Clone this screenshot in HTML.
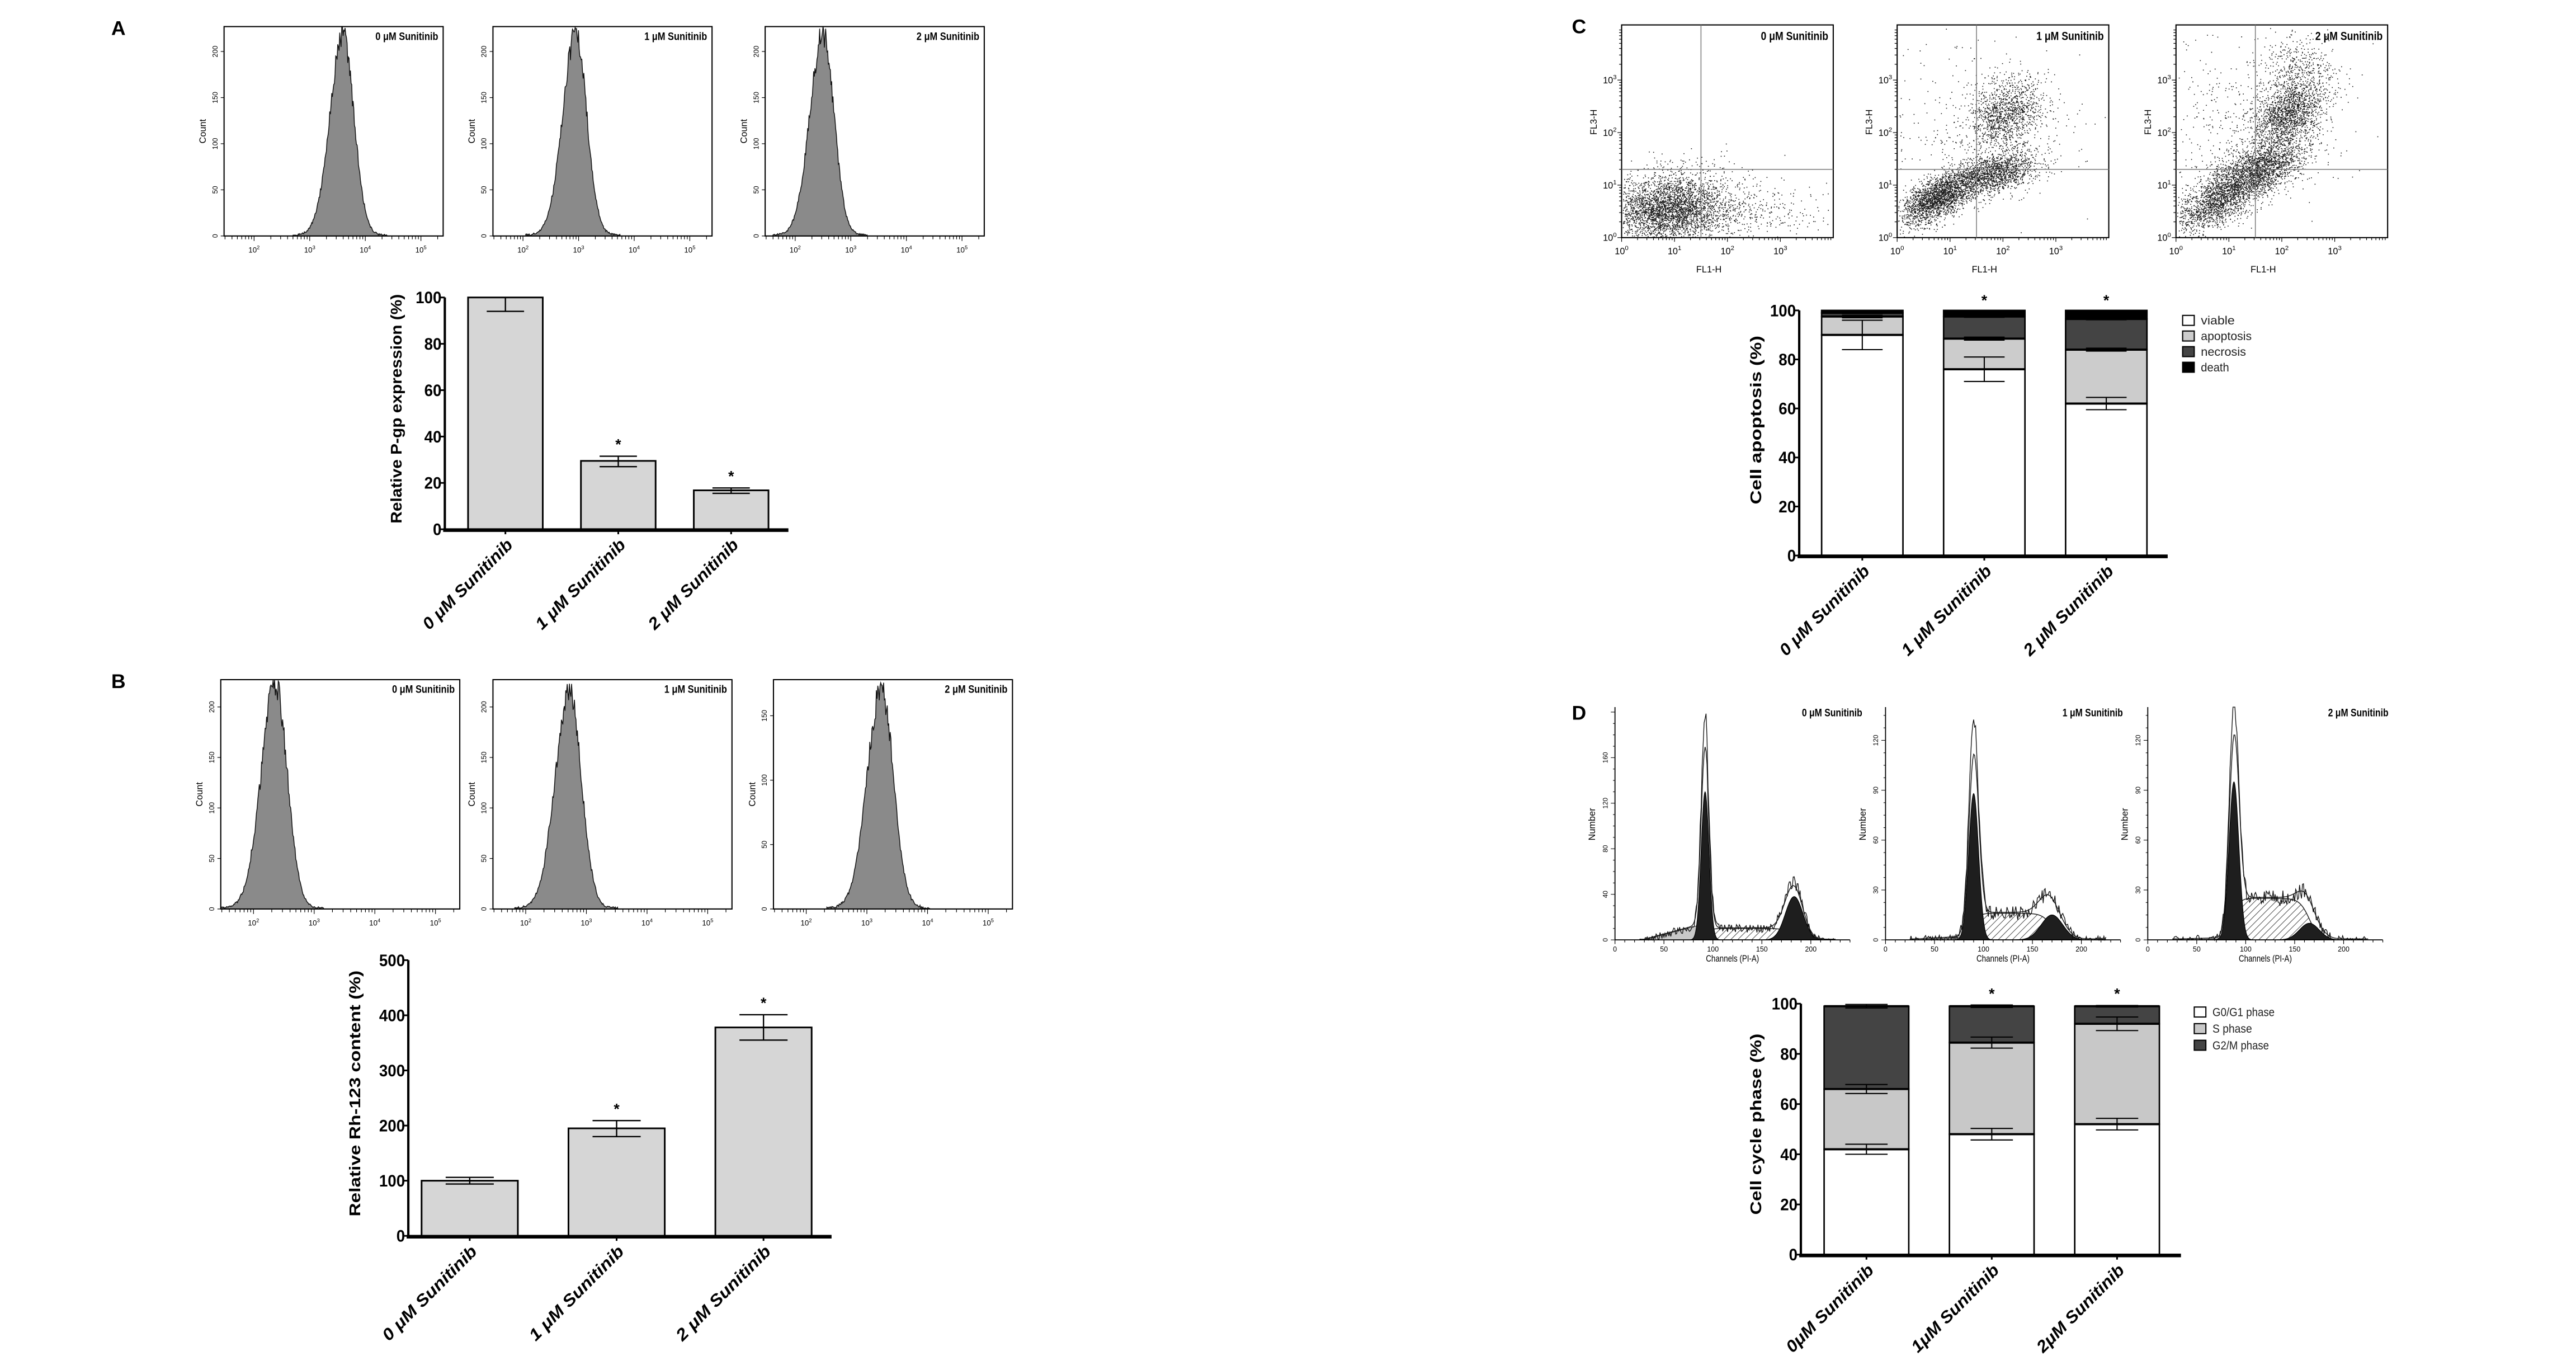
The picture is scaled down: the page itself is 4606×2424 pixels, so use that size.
<!DOCTYPE html>
<html><head><meta charset="utf-8">
<style>
html,body{margin:0;padding:0;background:#fff;}
svg{display:block;}
text{font-family:"Liberation Sans",sans-serif;}
</style></head>
<body>
<svg id="fig" width="4606" height="2424" viewBox="0 0 1552 816" preserveAspectRatio="none" xmlns="http://www.w3.org/2000/svg">
<defs>
<pattern id="hatch" patternUnits="userSpaceOnUse" width="3" height="3" patternTransform="rotate(45)">
<rect width="3" height="3" fill="#fff"/><line x1="0" y1="0" x2="0" y2="3" stroke="#333" stroke-width="0.6"/>
</pattern>
</defs>
<rect x="0" y="0" width="1552" height="816" fill="#fff"/>
<text x="67" y="21" font-family="Liberation Serif" font-weight="bold" font-size="12">A</text>
<text x="67" y="414" font-family="Liberation Serif" font-weight="bold" font-size="12">B</text>
<text x="947" y="20" font-family="Liberation Serif" font-weight="bold" font-size="12">C</text>
<text x="947" y="433" font-family="Liberation Serif" font-weight="bold" font-size="12">D</text>
</svg>
<script>
// ---------------- DATA ----------------
const barCats = ['0 μM Sunitinib','1 μM Sunitinib','2 μM Sunitinib'];
const dCats = ['0μM Sunitinib','1μM Sunitinib','2μM Sunitinib'];
const histTitles = ['0 μM Sunitinib','1 μM Sunitinib','2 μM Sunitinib'];
// Panel A bar: relative P-gp expression
const aVals = [100, 29.5, 16.8];
const aErrUp = [0, 2, 1];
const aErrDn = [6, 2.5, 1.3];
const aStars = [false, true, true];
const aTicks = [0, 20, 40, 60, 80, 100];
// Panel B bar: relative Rh-123 content
const bVals = [100, 195, 378];
const bErrUp = [6, 14, 23];
const bErrDn = [6, 15, 23];
const bStars = [false, true, true];
const bTicks = [0, 100, 200, 300, 400, 500];
// Panel A / B histogram peak positions (log10 fluorescence)
const aPeakLog = [3.6, 2.95, 2.5];
const aPeakCount = [215, 218, 218];
const bPeakLog = [2.36, 2.72, 3.24];
const bPeakCount = [222, 214, 170];
const aHistYTicks = [0, 50, 100, 150, 200];
const bHistYTicks = [[0,50,100,150,200],[0,50,100,150,200],[0,50,100,150]];
const bHistYMax = [227, 227, 178];
// Panel C stacked: cell apoptosis
const cViable = [90, 76, 62];
const cApop = [7.5, 12.5, 22];
const cNecro = [1.5, 9, 12.5];
const cDeath = [1, 2.5, 3.5];
const cViableErr = [6, 5, 2.5];
const cApopErr = [0.5, 0.6, 0.6];
const cNecroErr = [0.3, 0.3, 0.3];
const cStars = [false, true, true];
const cTicks = [0, 20, 40, 60, 80, 100];
const cLegend = ['viable','apoptosis','necrosis','death'];
// Panel D stacked: cell cycle phase
const dG1 = [42, 48, 52];
const dS = [24, 36.5, 40];
const dG2 = [33, 14.5, 7];
const dG1Err = [2, 2.3, 2.3];
const dSErr = [1.8, 2.2, 2.7];
const dG2Err = [0.7, 0.5, 0.3];
const dStars = [false, true, true];
const dTicks = [0, 20, 40, 60, 80, 100];
const dLegend = ['G0/G1 phase','S phase','G2/M phase'];
// Panel D DNA histograms (channel units / counts)
const dHistG1Mu = [92, 90, 88];
const dHistG1Sd = [4, 5, 5];
const dHistG1H = [130, 88, 95];
const dHistG2Mu = [183, 170, 165];
const dHistG2Sd = [9, 11, 10];
const dHistG2H = [38, 15, 10];
const dHistSH = [10, 16, 25];
const dHistDebrisH = [15, 2, 1];
const dHistYTicks = [[0,40,80,120,160],[0,30,60,90,120],[0,30,60,90,120]];
const dHistYMax = [200, 137, 137];
const dHistXTicks = [0, 50, 100, 150, 200];

// ---------------- HELPERS ----------------
const NS = 'http://www.w3.org/2000/svg';
const svg = document.getElementById('fig');
function mk(tag, attrs, parent){
  const e = document.createElementNS(NS, tag);
  for (const k in attrs) e.setAttribute(k, attrs[k]);
  (parent || svg).appendChild(e);
  return e;
}
function txt(parent, x, y, s, size, extra){
  const t = mk('text', Object.assign({x:x, y:y, 'font-size':size}, extra||{}), parent);
  t.textContent = s;
  return t;
}
let seed = 12345;
function rnd(){ seed = (seed * 1664525 + 1013904223) % 4294967296; return seed / 4294967296; }
function gauss(){ let u = rnd() || 1e-6, v = rnd(); return Math.sqrt(-2*Math.log(u))*Math.cos(2*Math.PI*v); }
function pow10(parent, x, y, exp, size, anchor){
  const t = mk('text', {x:x, y:y, 'font-size':size, 'text-anchor':anchor||'middle'}, parent);
  const a = mk('tspan', {}, t); a.textContent = '10';
  const b = mk('tspan', {dy:-size*0.45, 'font-size':size*0.7}, t); b.textContent = String(exp);
  return t;
}

// ---------------- SIMPLE BAR CHART ----------------
function barChart(name, cfg, cats, vals, errUp, errDn, stars, ticks){
  const g = mk('g', {});
  
  
  const max = ticks[ticks.length-1];
  const y = v => cfg.y0 - v/max*(cfg.y0-cfg.yTop);
  const cx = i => cfg.firstX + i*cfg.step + cfg.bw/2;
  vals.forEach((v,i)=>{
    const r = mk('rect', {x:cx(i)-cfg.bw/2, y:y(v), width:cfg.bw, height:cfg.y0-y(v), fill:'#d6d6d6', stroke:'#000', 'stroke-width':1}, g);
    
    
    const hi = y(v+errUp[i]), lo = y(v-errDn[i]);
    const eb = mk('path', {d:`M${cx(i)} ${hi}V${lo}M${cx(i)-cfg.bw*0.25} ${hi}h${cfg.bw*0.5}M${cx(i)-cfg.bw*0.25} ${lo}h${cfg.bw*0.5}`, stroke:'#000', 'stroke-width':0.8, fill:'none'}, g);
    
    
    if (stars[i]) {
      const s = txt(g, cx(i), hi-4, '*', 9, {'text-anchor':'middle', 'font-weight':'bold'});
      
      
    }
    mk('line', {x1:cx(i), x2:cx(i), y1:cfg.y0, y2:cfg.y0+3, stroke:'#000', 'stroke-width':1}, g);
    const lbl = txt(g, cx(i)+5, cfg.y0+10, cats[i], cfg.catSize, {'text-anchor':'end', 'font-weight':'bold', 'font-style':'italic', transform:`rotate(-45 ${cx(i)+5} ${cfg.y0+10})`, textLength:cfg.catLen, lengthAdjust:'spacingAndGlyphs'});
    
    
  });
  const ax = mk('line', {x1:cfg.x0, x2:cfg.x0, y1:cfg.y0, y2:cfg.yTop, stroke:'#000', 'stroke-width':1.4}, g);
  
  
  const xa = mk('line', {x1:cfg.x0-1, x2:cfg.xEnd, y1:cfg.y0+0.5, y2:cfg.y0+0.5, stroke:'#000', 'stroke-width':2.2}, g);
  
  
  ticks.forEach(t=>{
    mk('line', {x1:cfg.x0-2.5, x2:cfg.x0, y1:y(t), y2:y(t), stroke:'#000', 'stroke-width':1}, g);
    const tl = txt(g, cfg.x0-2, y(t)+3.5, String(t), 10, {'text-anchor':'end', 'font-weight':'bold', textLength:String(t).length*5.2, lengthAdjust:'spacingAndGlyphs'});
    
    
  });
  const yt = txt(g, 0, 0, cfg.title, 9.5, {'text-anchor':'middle', 'font-weight':'bold', transform:`translate(${cfg.titleX} ${(cfg.titleY0+cfg.titleY1)/2}) rotate(-90)`, textLength:cfg.titleY1-cfg.titleY0, lengthAdjust:'spacingAndGlyphs'});
  
  
}

// ---------------- STACKED BAR CHART ----------------
function stackChart(name, cfg, cats, series, errs, fills, stars, ticks, legend){
  const g = mk('g', {});
  
  
  const max = ticks[ticks.length-1];
  const y = v => cfg.y0 - v/max*(cfg.y0-cfg.yTop);
  const cx = i => cfg.firstX + i*cfg.step + cfg.bw/2;
  cats.forEach((c,i)=>{
    let base = 0;
    const tops = [];
    series.forEach((s,k)=>{
      const top = base + s[i];
      const r = mk('rect', {x:cx(i)-cfg.bw/2, y:y(top), width:cfg.bw, height:y(base)-y(top), fill:fills[k], stroke:'#000', 'stroke-width':0.9}, g);
      
      
      tops.push(top);
      base = top;
    });
    errs.forEach((e,k)=>{
      const t = tops[k];
      const hi = y(t+e[i]), lo = y(t-e[i]);
      const col = (fills[k+1] === '#444' || fills[k+1] === '#000') && k>0 ? '#000' : '#000';
      const eb = mk('path', {d:`M${cx(i)} ${hi}V${lo}M${cx(i)-cfg.bw*0.25} ${hi}h${cfg.bw*0.5}M${cx(i)-cfg.bw*0.25} ${lo}h${cfg.bw*0.5}`, stroke:col, 'stroke-width':0.7, fill:'none'}, g);
      
      
      mk('line', {x1:cx(i)-cfg.bw/2, x2:cx(i)+cfg.bw/2, y1:y(t), y2:y(t), stroke:'#000', 'stroke-width':1.3}, g);
    });
    if (stars[i]) {
      const s = txt(g, cx(i), cfg.yTop-3, '*', 9, {'text-anchor':'middle', 'font-weight':'bold'});
      
      
    }
    mk('line', {x1:cx(i), x2:cx(i), y1:cfg.y0, y2:cfg.y0+3, stroke:'#000', 'stroke-width':1}, g);
    const lbl = txt(g, cx(i)+5, cfg.y0+10, cats[i], 10, {'text-anchor':'end', 'font-weight':'bold', 'font-style':'italic', transform:`rotate(-45 ${cx(i)+5} ${cfg.y0+10})`, textLength:cfg.catLen, lengthAdjust:'spacingAndGlyphs'});
    
    
  });
  const ax = mk('line', {x1:cfg.x0, x2:cfg.x0, y1:cfg.y0, y2:cfg.yTop, stroke:'#000', 'stroke-width':1.4}, g);
  
  
  const xa = mk('line', {x1:cfg.x0-1, x2:cfg.xEnd, y1:cfg.y0+0.5, y2:cfg.y0+0.5, stroke:'#000', 'stroke-width':2.2}, g);
  
  
  ticks.forEach(t=>{
    mk('line', {x1:cfg.x0-2.5, x2:cfg.x0, y1:y(t), y2:y(t), stroke:'#000', 'stroke-width':1}, g);
    const tl = txt(g, cfg.x0-2, y(t)+3.5, String(t), 10, {'text-anchor':'end', 'font-weight':'bold', textLength:String(t).length*5.2, lengthAdjust:'spacingAndGlyphs'});
    
    
  });
  const yt = txt(g, 0, 0, cfg.title, 9.5, {'text-anchor':'middle', 'font-weight':'bold', transform:`translate(${cfg.titleX} ${(cfg.titleY0+cfg.titleY1)/2}) rotate(-90)`, textLength:cfg.titleY1-cfg.titleY0, lengthAdjust:'spacingAndGlyphs'});
  
  
  legend.forEach((l,k)=>{
    const ly = cfg.legY + k*cfg.legStep;
    const sw = mk('rect', {x:cfg.legX, y:ly-3, width:7, height:6, fill:fills[k], stroke:'#000', 'stroke-width':0.7}, g);
    
    
    const lt = txt(g, cfg.legX+11, ly+2.5, l, 7, {fill:'#222', textLength:l.length*3.4, lengthAdjust:'spacingAndGlyphs'});
    
    
  });
}

// ---------------- LOG HISTOGRAM (A, B) ----------------
function logHist(name, box, peakLog, peakCount, yTicks, yMax, title, noiseSeed){
  const g = mk('g', {});
  
  
  const lmin = 1.46, lmax = 5.4;
  const xs = l => box.x0 + (l-lmin)/(lmax-lmin)*(box.x1-box.x0);
  const ys = c => box.y1 - c/yMax*(box.y1-box.y0);
  seed = noiseSeed;
  let d = `M${xs(peakLog-0.9)} ${box.y1}`;
  for (let l = peakLog-0.9; l <= peakLog+0.8; l += 0.012) {
    const z = (l-peakLog)/0.21;
    let c = peakCount*Math.exp(-0.5*z*z*(z<0?0.8:1.15));
    c *= 1 + 0.12*(rnd()-0.5);
    c += 2*rnd();
    d += `L${xs(l).toFixed(2)} ${Math.max(ys(c), box.y0).toFixed(2)}`;
  }
  d += `L${xs(peakLog+0.8)} ${box.y1}Z`;
  const h = mk('path', {d:d, fill:'#8a8a8a', stroke:'#111', 'stroke-width':0.5}, g);
  
  
  const fr = mk('rect', {x:box.x0, y:box.y0, width:box.x1-box.x0, height:box.y1-box.y0, fill:'none', stroke:'#000', 'stroke-width':0.7}, g);
  
  
  for (let dec = 1; dec <= 5; dec++) {
    for (let k = 1; k <= 9; k++) {
      const l = dec + Math.log10(k);
      if (l < lmin || l > lmax) continue;
      mk('line', {x1:xs(l), x2:xs(l), y1:box.y1, y2:box.y1+(k===1?3:2), stroke:'#000', 'stroke-width':0.4}, g);
    }
    if (dec >= 2) {
      const t = pow10(g, xs(dec), box.y1+10, dec, 4.5);
      
      
    }
  }
  yTicks.forEach(t=>{
    mk('line', {x1:box.x0-2, x2:box.x0, y1:ys(t), y2:ys(t), stroke:'#000', 'stroke-width':0.4}, g);
    const tl = txt(g, 0, 0, String(t), 4.2, {'text-anchor':'middle', transform:`translate(${box.x0-4} ${ys(t)}) rotate(-90)`});
    
    
  });
  const cl = txt(g, 0, 0, 'Count', 5.5, {'text-anchor':'middle', transform:`translate(${box.x0-11} ${(box.y0+box.y1)/2}) rotate(-90)`});
  
  
  const tt = txt(g, box.x1-3, box.y0+8, title, 6.5, {'text-anchor':'end', 'font-weight':'bold', textLength:title.length*2.7, lengthAdjust:'spacingAndGlyphs'});
  
  
}

// ---------------- SCATTER (C) ----------------
const cClusters = [
  [[0.85,0.55,0.55,0.33,0,3200],[2.2,0.5,0.8,0.3,0,500],[1.6,1.3,0.4,0.2,0,60]],
  [[0.75,0.75,0.35,0.25,0.6,2000],[1.8,1.2,0.45,0.22,0.5,1600],[2.05,2.35,0.35,0.35,0.3,1200],[1.5,2.2,1.0,0.7,0,350]],
  [[0.8,0.7,0.4,0.3,0.6,1500],[1.55,1.3,0.45,0.3,0.5,2100],[2.1,2.35,0.33,0.3,0.3,1500],[2.3,3.1,0.35,0.4,0,500],[1.4,2.4,1.0,0.8,0,400]]
];
function scatterPlot(name, box, clusters, title, s0){
  const g = mk('g', {});
  
  
  const xs = l => box.x0 + l/4*(box.x1-box.x0);
  const ys = l => box.y1 - l/4.05*(box.y1-box.y0);
  seed = s0;
  let d = '';
  clusters.forEach(c=>{
    for (let i = 0; i < c[5]; i++) {
      const a = gauss(), b = gauss();
      const lx = c[0] + c[2]*a;
      const ly = c[1] + c[3]*(c[4]*a + Math.sqrt(1-c[4]*c[4])*b);
      if (lx < 0.02 || lx > 3.97 || ly < 0.02 || ly > 4.0) continue;
      d += `M${xs(lx).toFixed(1)} ${ys(ly).toFixed(1)}h0.55v0.55h-0.55z`;
    }
  });
  const dots = mk('path', {d:d, fill:'#1a1a1a'}, g);
  
  
  const fr = mk('rect', {x:box.x0, y:box.y0, width:box.x1-box.x0, height:box.y1-box.y0, fill:'none', stroke:'#000', 'stroke-width':0.7}, g);
  
  
  const q = mk('path', {d:`M${xs(1.5)} ${box.y0}V${box.y1}M${box.x0} ${ys(1.3)}H${box.x1}`, stroke:'#777', 'stroke-width':0.5}, g);
  
  
  for (let dec = 0; dec < 4; dec++) {
    for (let k = 1; k <= 9; k++) {
      const l = dec + Math.log10(k);
      mk('line', {x1:xs(l), x2:xs(l), y1:box.y1, y2:box.y1+(k===1?2.5:1.5), stroke:'#000', 'stroke-width':0.4}, g);
      mk('line', {x1:box.x0-(k===1?2.5:1.5), x2:box.x0, y1:ys(l), y2:ys(l), stroke:'#000', 'stroke-width':0.4}, g);
    }
    const tx = pow10(g, xs(dec), box.y1+10, dec, 5.5);
    
    
    const ty = pow10(g, box.x0-3, ys(dec)+2, dec, 5.5, 'end');
    
    
  }
  const xl = txt(g, xs(1.65), box.y1+21, 'FL1-H', 5.5, {'text-anchor':'middle'});
  
  
  const yl = txt(g, 0, 0, 'FL3-H', 5.5, {'text-anchor':'middle', transform:`translate(${box.x0-15} ${ys(2.2)}) rotate(-90)`});
  
  
  const tt = txt(g, box.x1-3, box.y0+9, title, 7, {'text-anchor':'end', 'font-weight':'bold', textLength:title.length*2.9, lengthAdjust:'spacingAndGlyphs'});
  
  
}

// ---------------- DNA HISTOGRAM (D) ----------------
function dnaHist(name, i, ax, titleRight, s0){
  const g = mk('g', {});
  
  
  const y0 = 565.6, top = 425.5, pxPerCh = 0.59;
  const pxPerCount = (y0-top-3)/dHistYMax[i]*1.0;
  const xs = c => ax + c*pxPerCh;
  const ys = v => y0 - v*pxPerCount;
  const g1 = c => dHistG1H[i]*Math.exp(-0.5*Math.pow((c-dHistG1Mu[i])/dHistG1Sd[i],2));
  const g2 = c => dHistG2H[i]*Math.exp(-0.5*Math.pow((c-dHistG2Mu[i])/dHistG2Sd[i],2));
  const sC = c => dHistSH[i]/(1+Math.exp(-(c-dHistG1Mu[i])/3))/(1+Math.exp((c-dHistG2Mu[i])/5));
  const deb = c => (c>30 && c<95) ? dHistDebrisH[i]*(c-30)/65 : 0;
  const area = (f, c0, c1) => {
    let d = `M${xs(c0)} ${y0}`;
    for (let c = c0; c <= c1; c += 0.5) d += `L${xs(c).toFixed(2)} ${ys(f(c)).toFixed(2)}`;
    return d + `L${xs(c1)} ${y0}Z`;
  };
  const db = mk('path', {d:area(deb, 30, 95), fill:'#c8c8c8', stroke:'#444', 'stroke-width':0.4}, g);
  
  
  const sp = mk('path', {d:area(sC, dHistG1Mu[i]-10, dHistG2Mu[i]+20), fill:'url(#hatch)', stroke:'#222', 'stroke-width':0.5}, g);
  
  
  const p1 = mk('path', {d:area(g1, dHistG1Mu[i]-4*dHistG1Sd[i], dHistG1Mu[i]+4*dHistG1Sd[i]), fill:'#1e1e1e', stroke:'#000', 'stroke-width':0.4}, g);
  
  
  const p2 = mk('path', {d:area(g2, dHistG2Mu[i]-3.5*dHistG2Sd[i], dHistG2Mu[i]+3.5*dHistG2Sd[i]), fill:'#1e1e1e', stroke:'#000', 'stroke-width':0.4}, g);
  
  
  // model fit envelope and raw data outline
  seed = s0;
  let fit = '', raw = '';
  for (let c = 25; c <= 225; c += 1) {
    const m = g1(c)*1.15 + g2(c)*1.1 + sC(c) + deb(c) + 0.6;
    fit += (c===25?'M':'L') + xs(c).toFixed(2) + ' ' + ys(m).toFixed(2);
    const r = Math.max(0, g1(c)*1.35 + g2(c)*1.2 + sC(c) + deb(c) + (rnd()-0.5)*(4+0.35*Math.sqrt(m)*3));
    raw += (c===25?'M':'L') + xs(c).toFixed(2) + ' ' + Math.max(ys(r), top).toFixed(2);
  }
  const fl = mk('path', {d:fit, fill:'none', stroke:'#222', 'stroke-width':0.5}, g);
  
  
  const rl = mk('path', {d:raw, fill:'none', stroke:'#111', 'stroke-width':0.45}, g);
  
  
  mk('line', {x1:ax, x2:ax, y1:y0, y2:top, stroke:'#000', 'stroke-width':0.6}, g);
  mk('line', {x1:ax, x2:xs(240), y1:y0, y2:y0, stroke:'#000', 'stroke-width':0.6}, g);
  for (let c = 0; c <= 240; c += 10) mk('line', {x1:xs(c), x2:xs(c), y1:y0, y2:y0+(c%50===0?2.5:1.5), stroke:'#000', 'stroke-width':0.4}, g);
  dHistXTicks.forEach(t=>{
    const tl = txt(g, xs(t), y0+7, String(t), 4.2, {'text-anchor':'middle'});
    
    
  });
  const step = dHistYTicks[i][1]/4;
  for (let v = 0; v <= dHistYMax[i]; v += step) mk('line', {x1:ax-(v%dHistYTicks[i][1]===0?2.5:1.2), x2:ax, y1:ys(v), y2:ys(v), stroke:'#000', 'stroke-width':0.35}, g);
  dHistYTicks[i].forEach(t=>{
    const tl = txt(g, 0, 0, String(t), 4, {'text-anchor':'middle', transform:`translate(${ax-4.5} ${ys(t)}) rotate(-90)`});
    
    
  });
  const xl = txt(g, xs(120), y0+13, 'Channels (PI-A)', 5.5, {'text-anchor':'middle', textLength:32, lengthAdjust:'spacingAndGlyphs'});
  
  
  const yl = txt(g, 0, 0, 'Number', 5.5, {'text-anchor':'middle', transform:`translate(${ax-12} ${496}) rotate(-90)`});
  
  
  const tt = txt(g, titleRight, 431, histTitles[i], 6.5, {'text-anchor':'end', 'font-weight':'bold', textLength:histTitles[i].length*2.6, lengthAdjust:'spacingAndGlyphs'});
  
  
}

// ---------------- BUILD ----------------
const aBoxX = [135, 297, 461];
aBoxX.forEach((x,i)=>logHist('panel-a-histogram-' + i, {x0:x, x1:x+132, y0:16, y1:142}, aPeakLog[i], aPeakCount[i], aHistYTicks, 227, histTitles[i], 100+i*17));
const bBoxX = [133, 297, 466];
bBoxX.forEach((x,i)=>logHist('panel-b-histogram-' + i, {x0:x, x1:x+144, y0:409, y1:547}, bPeakLog[i], bPeakCount[i], bHistYTicks[i], bHistYMax[i], histTitles[i], 300+i*23));

barChart('panel-a-bar-chart', {x0:268, y0:318.5, yTop:179, xEnd:475, firstX:282, step:68, bw:45, catSize:10, catLen:72, title:'Relative P-gp expression (%)', titleX:242, titleY0:177, titleY1:315}, barCats, aVals, aErrUp, aErrDn, aStars, aTicks);
barChart('panel-b-bar-chart', {x0:246, y0:743.7, yTop:577.8, xEnd:501, firstX:254, step:88.5, bw:58, catSize:10, catLen:76, title:'Relative Rh-123 content (%)', titleX:217, titleY0:584, titleY1:732}, barCats, bVals, bErrUp, bErrDn, bStars, bTicks);

const cBoxX = [977, 1143, 1311];
cBoxX.forEach((x,i)=>scatterPlot('panel-c-scatter-' + i, {x0:x, x1:x+127.5, y0:15, y1:143}, cClusters[i], histTitles[i], 777+i*91));

stackChart('panel-c-stacked-chart', {x0:1084, y0:334.3, yTop:186.8, xEnd:1306, firstX:1097.5, step:73.5, bw:49, catLen:72, title:'Cell apoptosis (%)', titleX:1061, titleY0:202, titleY1:303.5, legX:1315, legY:192.8, legStep:9.4},
  barCats, [cViable, cApop, cNecro, cDeath], [cViableErr, cApopErr, cNecroErr], ['#fff','#cccccc','#444','#000'], cStars, cTicks, cLegend);

const dAxX = [973, 1136, 1294];
const dTitleR = [1122, 1279, 1439];
dAxX.forEach((x,i)=>dnaHist('panel-d-histogram-' + i, i, x, dTitleR[i], 500+i*37));

stackChart('panel-d-stacked-chart', {x0:1085, y0:755, yTop:604, xEnd:1314, firstX:1099, step:75.5, bw:51, catLen:70, title:'Cell cycle phase (%)', titleX:1061, titleY0:622, titleY1:731, legX:1322, legY:609, legStep:10},
  dCats, [dG1, dS, dG2], [dG1Err, dSErr, dG2Err], ['#fff','#c8c8c8','#444'], dStars, dTicks, dLegend);
</script>
</body></html>
